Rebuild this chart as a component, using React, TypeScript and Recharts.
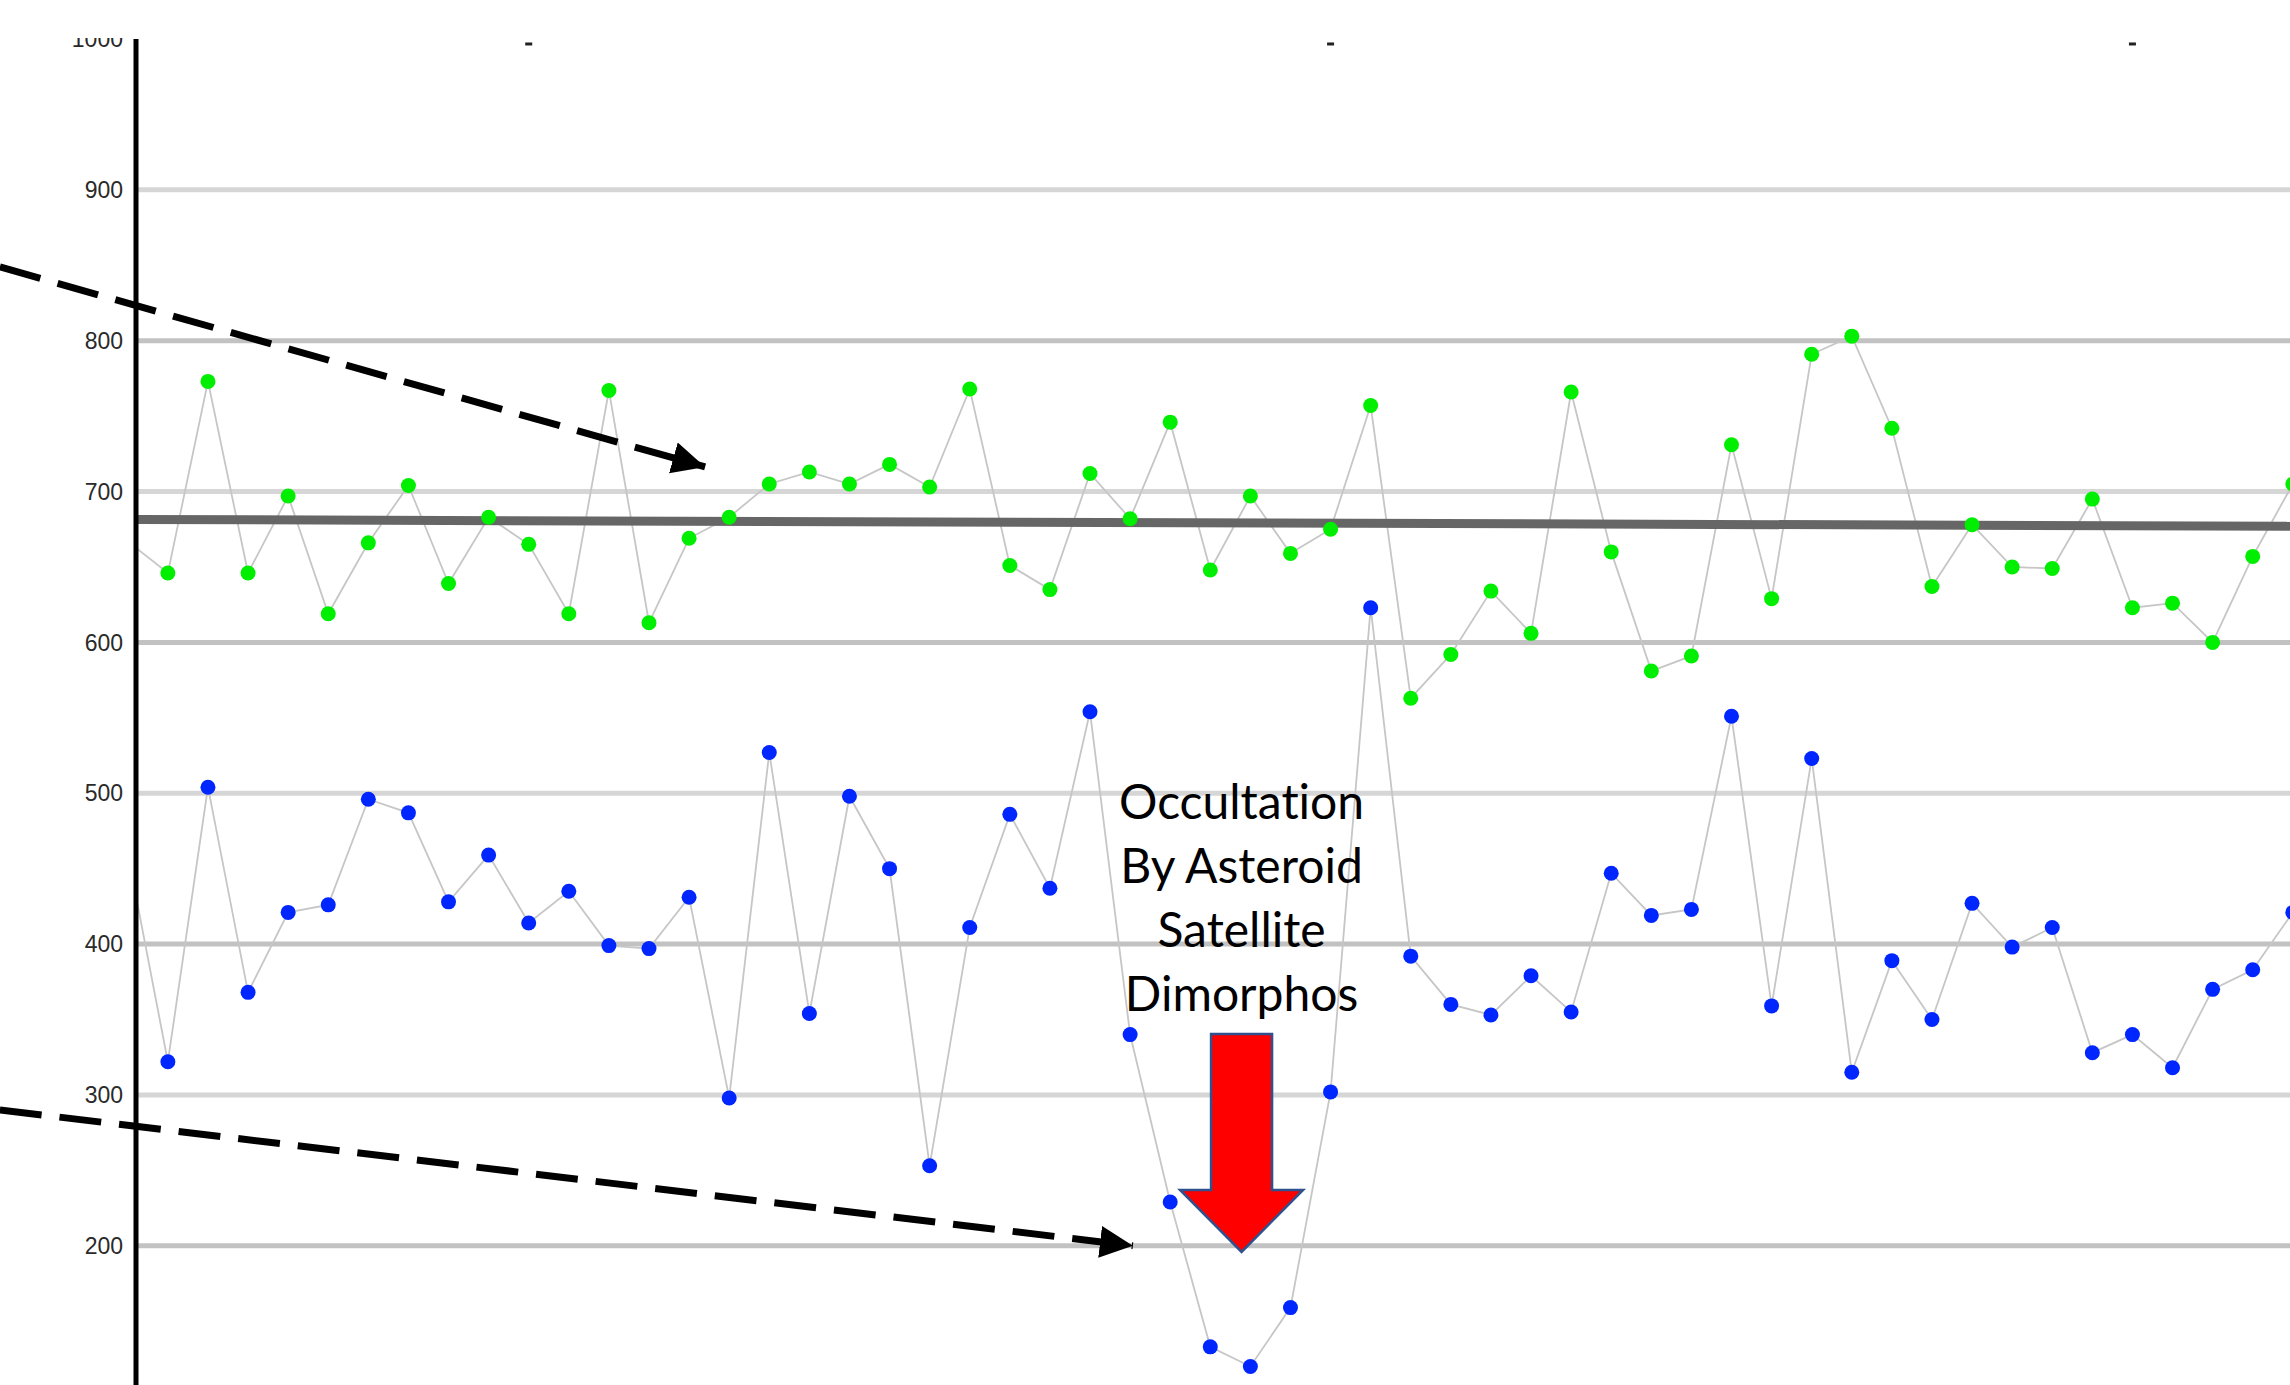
import React from 'react';
import { LineChart, Line, XAxis, YAxis, ReferenceLine, ReferenceDot } from 'recharts';

// sample number along the light curve
const sampleIndex = [
  0, 1, 2, 3, 4, 5, 6, 7, 8, 9, 10, 11, 12, 13, 14, 15, 16, 17, 18, 19, 20, 21, 22, 23, 24, 25, 26, 27,
  28, 29, 30, 31, 32, 33, 34, 35, 36, 37, 38, 39, 40, 41, 42, 43, 44, 45, 46, 47, 48, 49, 50, 51, 52, 53, 54,
];

// comparison star (green)
const comparisonCounts = [
  667, 646, 773, 646, 697, 619, 666, 704, 639, 683, 665, 619, 767, 613, 669, 683, 705, 713, 705, 718, 703,
  768, 651, 635, 712, 682, 746, 648, 697, 659, 675, 757, 563, 592, 634, 606, 766, 660, 581, 591, 731, 629,
  791, 803, 742, 637, 678, 650, 649, 695, 623, 626, 600, 657, 705,
];

// target star (blue)
const targetCounts = [
  460, 322, 504, 368, 421, 426, 496, 487, 428, 459, 414, 435, 399, 397, 431, 298, 527, 354, 498, 450, 253,
  411, 486, 437, 554, 340, 229, 133, 120, 159, 302, 623, 392, 360, 353, 379, 355, 447, 419, 423, 551, 359,
  523, 315, 389, 350, 427, 398, 411, 328, 340, 318, 370, 383, 421,
];

// fitted mean of the comparison star
const trendIndex = [0, 54];
const trendCounts = [681.5, 677];

const yTicks = [200, 300, 400, 500, 600, 700, 800, 900, 1000];
const gridValues = [200, 300, 400, 500, 600, 700, 800, 900];
const topTicks = [10, 30, 50];

const noteLines = ['Occultation', 'By Asteroid', 'Satellite', 'Dimorphos'];

const rows = sampleIndex.map((i, k) => ({ i, green: comparisonCounts[k], blue: targetCounts[k] }));
const trendRows = trendIndex.map((i, k) => ({ i, v: trendCounts[k] }));

// annotation anchors, in chart units (sample, counts)
const upperArrow = [{ x: -3.19, y: 848.9 }, { x: 14.4, y: 716.3 }];
const lowerArrow = [{ x: -3.19, y: 290 }, { x: 25.07, y: 200 }];
const redArrowTop = { x: 27.78, y: 340.4 };
const noteAnchor = { x: 27.78, y: 482.9 };

const RedArrow = ({ cx, cy }: { cx: number; cy: number }) => {
  const pts = [
    [-30.5, 0], [30.5, 0], [30.5, 156], [61.5, 156], [0, 218], [-61.5, 156], [-30.5, 156],
  ].map(([dx, dy]) => `${cx + dx},${cy + dy}`).join(' ');
  return <polygon points={pts} fill="#ff0000" stroke="#2f528f" strokeWidth={2.5} strokeLinejoin="miter" />;
};

const DashedArrow = (p: any) => (
  <line
    x1={p.x1}
    y1={p.y1}
    x2={p.x2}
    y2={p.y2}
    stroke="#000"
    strokeWidth={7}
    strokeDasharray="42 18"
    markerEnd="url(#arrowHead)"
  />
);

const App: React.FC = () => {
  return (
    <div style={{ position: 'absolute', left: 0, top: 0, width: 2290, height: 1385, overflow: 'hidden', background: '#fff' }}>
      <svg width={0} height={0} style={{ position: 'absolute' }}>
        <defs>
          <marker id="arrowHead" markerUnits="userSpaceOnUse" markerWidth={36} markerHeight={34} refX={33} refY={17} orient="auto">
            <path d="M0,1 L33,17 L0,33 z" fill="#000" />
          </marker>
        </defs>
      </svg>
      <LineChart width={2290} height={1385} data={rows} margin={{ top: 39, right: 0, bottom: 0, left: 0 }}>
        <XAxis dataKey="i" type="number" domain={[0.205, 53.93]} allowDataOverflow hide />
        <YAxis
          type="number"
          domain={[107.7, 1000]}
          allowDataOverflow
          ticks={yTicks}
          width={136}
          axisLine={{ stroke: '#000', strokeWidth: 5 }}
          tickLine={false}
          tickMargin={7}
          tick={{ fill: '#2a2a2a', fontSize: 23, fontFamily: '"Liberation Sans Narrow", "Liberation Sans", sans-serif' }}
        />
        {gridValues.map((v) => (
          <ReferenceLine key={v} y={v} stroke={v % 200 === 0 ? '#c2c2c2' : '#d6d6d6'} strokeWidth={5} />
        ))}
        <Line
          dataKey="green"
          stroke="#c6c6c6"
          strokeWidth={1.8}
          dot={{ r: 7.5, fill: '#00ee00', stroke: 'none' }}
          isAnimationActive={false}
        />
        <Line
          dataKey="blue"
          stroke="#c6c6c6"
          strokeWidth={1.8}
          dot={{ r: 7.5, fill: '#0026ff', stroke: 'none' }}
          isAnimationActive={false}
        />
        <Line data={trendRows} dataKey="v" stroke="#666" strokeWidth={9} dot={false} isAnimationActive={false} />
        {topTicks.map((t) => (
          <ReferenceDot
            key={t}
            x={t}
            y={996.7}
            ifOverflow="visible"
            shape={(p: any) => <rect x={p.cx - 3.5} y={p.cy - 1.5} width={7} height={3} fill="#222" />}
          />
        ))}
        <ReferenceLine segment={upperArrow} ifOverflow="visible" shape={DashedArrow} />
        <ReferenceLine segment={lowerArrow} ifOverflow="visible" shape={DashedArrow} />
        <ReferenceDot
          x={redArrowTop.x}
          y={redArrowTop.y}
          ifOverflow="visible"
          shape={(p: any) => <RedArrow cx={p.cx} cy={p.cy} />}
        />
        <ReferenceDot
          x={noteAnchor.x}
          y={noteAnchor.y}
          ifOverflow="visible"
          shape={(p: any) => (
            <text
              textAnchor="middle"
              fill="#000"
              fontSize={48}
              fontFamily="Lato, 'Open Sans', sans-serif"
              style={{ fontVariantLigatures: 'none' }}
            >
              {noteLines.map((l, k) => (
                <tspan key={l} x={p.cx} y={p.cy + k * 64}>
                  {l}
                </tspan>
              ))}
            </text>
          )}
        />
      </LineChart>
      <div style={{ position: 'absolute', left: 0, top: 0, width: 2290, height: 38, background: '#fff' }} />
    </div>
  );
};

export default App;
